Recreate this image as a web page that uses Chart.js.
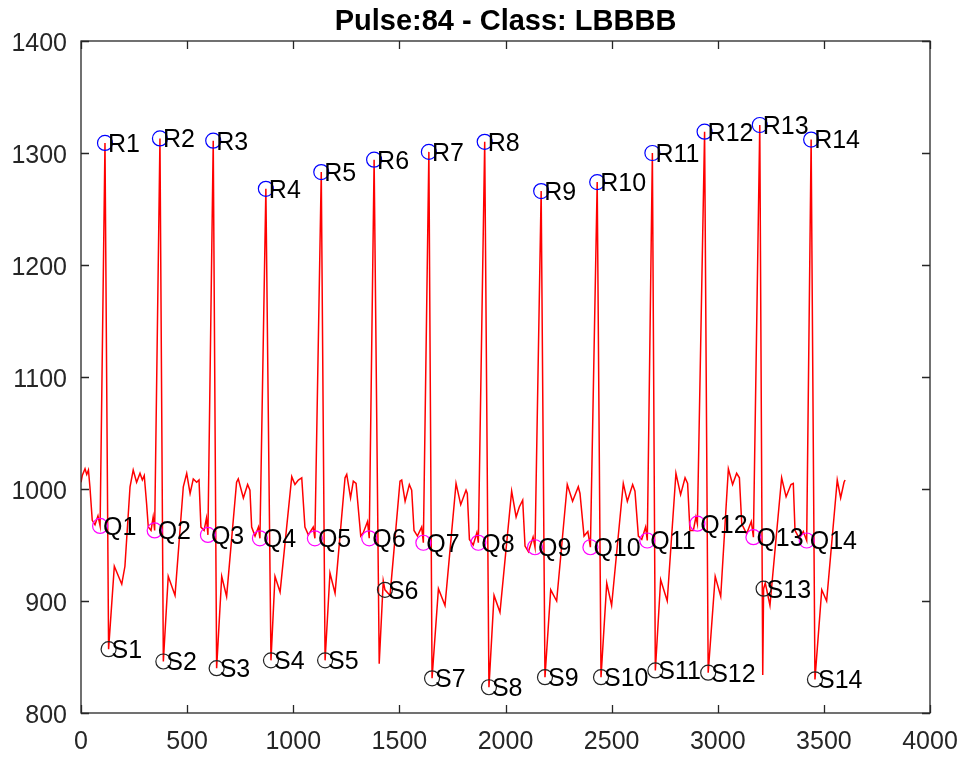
<!DOCTYPE html>
<html>
<head>
<meta charset="utf-8">
<title>Pulse:84 - Class: LBBBB</title>
<script src="https://cdn.jsdelivr.net/npm/chart.js@4/dist/chart.umd.min.js"></script>
<style>
  body { margin: 0; background: #fff; }
  canvas { display: block; }
</style>
</head>
<body>
<canvas id="ecg" width="968" height="760"></canvas>
<script>
// ECG trace, one line per beat (sample index / amplitude)
const waveX = [
  0, 6, 19, 27, 35, 42, 53, 66, 80,
  157, 192, 207, 231, 246, 262, 278, 289, 298, 309, 317, 330, 340,
  411, 443, 482, 498, 514, 529, 545, 556, 565, 580, 591,
  663, 686, 733, 741, 765, 785, 796, 804, 820, 836,
  914, 938, 993, 1008, 1024, 1040, 1055, 1071, 1094,
  1173, 1197, 1244, 1252, 1270, 1283, 1296, 1318, 1330, 1350,
  1405, 1424, 1456, 1503, 1511, 1527, 1547, 1558, 1569, 1585, 1605,
  1684, 1715, 1767, 1789, 1814, 1820, 1830, 1848, 1865,
  1946, 1974, 2029, 2050, 2065, 2081, 2092, 2108, 2130,
  2213, 2241, 2291, 2316, 2343, 2351, 2370, 2388,
  2477, 2500, 2555, 2574, 2599, 2610, 2626, 2642, 2660,
  2731, 2762, 2803, 2825, 2846, 2858, 2869, 2885, 2897,
  2988, 3014, 3050, 3070, 3089, 3102, 3113, 3136, 3158,
  3212, 3224, 3246, 3301, 3322, 3345, 3356, 3364, 3384, 3403,
  3490, 3513, 3563, 3579, 3595, 3600
];
const waveY = [
  1006, 1012, 1018, 1013, 1017, 1002, 972, 968, 976,
  931, 915, 931, 1002, 1017, 1006, 1014, 1008, 1012, 987, 966, 963, 975,
  922, 905, 1002, 1014, 996, 1009, 1006, 1008, 966, 963, 974,
  922, 904, 1006, 1009, 992, 1004, 999, 966, 958, 966,
  922, 908, 1011, 1004, 1008, 1010, 966, 959, 966,
  925, 907, 1010, 1013, 992, 1007, 1005, 958, 961, 971,
  844, 918, 905, 1007, 1008, 989, 1004, 999, 963, 958, 966,
  911, 896, 1005, 986, 999, 996, 955, 950, 961,
  905, 890, 998, 975, 984, 990, 949, 944, 957,
  910, 900, 1004, 989, 1002, 996, 958, 962,
  916, 896, 1005, 989, 1004, 998, 958, 955, 966,
  919, 900, 1014, 995, 1010, 1005, 963, 963, 975,
  922, 904, 1018, 1004, 1014, 1010, 969, 960, 971,
  834, 916, 896, 1010, 993, 1004, 1005, 963, 956, 962,
  910, 900, 1008, 992, 1006, 1008
];

// detected Q, R and S points
const qX = [90, 347, 598, 843, 1102, 1358, 1613, 1872, 2139, 2400, 2668, 2904, 3168, 3419];
const qY = [967, 963, 959, 956, 956, 956, 952, 952, 948, 948, 954, 969, 957, 954];
const rX = [113, 372, 623, 871, 1132, 1381, 1639, 1902, 2168, 2432, 2692, 2938, 3198, 3440];
const rY = [1309, 1313, 1311, 1268, 1283, 1294, 1301, 1310, 1266, 1274, 1300, 1319, 1325, 1312];
const sX = [130, 388, 639, 895, 1150, 1432, 1654, 1922, 2186, 2450, 2706, 2955, 3216, 3458];
const sY = [857, 846, 840, 847, 847, 910, 831, 823, 832, 832, 838, 836, 911, 830];

const xTickValues = [0, 500, 1000, 1500, 2000, 2500, 3000, 3500, 4000];
const yTickValues = [800, 900, 1000, 1100, 1200, 1300, 1400];

const FONT = '"Liberation Sans", Arial, Helvetica, sans-serif';

const toPoints = (xs, ys) => xs.map((v, i) => ({ x: v, y: ys[i] }));

// the trace passes through every Q/R/S point
const signal = toPoints(waveX, waveY)
  .concat(toPoints(qX, qY), toPoints(rX, rY), toPoints(sX, sY))
  .sort((a, b) => a.x - b.x);

// box round the plot with inward ticks on all four sides
const axisBox = {
  id: 'axisBox',
  afterDatasetsDraw(chart) {
    const { ctx, chartArea: a, scales: { x, y } } = chart;
    const len = 8;
    ctx.save();
    ctx.strokeStyle = '#262626';
    ctx.lineWidth = 1.3;
    ctx.strokeRect(a.left, a.top, a.right - a.left, a.bottom - a.top);
    ctx.beginPath();
    x.ticks.forEach(t => {
      const px = Math.round(x.getPixelForValue(t.value)) + 0.5;
      ctx.moveTo(px, a.bottom); ctx.lineTo(px, a.bottom - len);
      ctx.moveTo(px, a.top); ctx.lineTo(px, a.top + len);
    });
    y.ticks.forEach(t => {
      const py = Math.round(y.getPixelForValue(t.value)) + 0.5;
      ctx.moveTo(a.left, py); ctx.lineTo(a.left + len, py);
      ctx.moveTo(a.right, py); ctx.lineTo(a.right - len, py);
    });
    ctx.stroke();
    ctx.restore();
  }
};

// "Q1", "R1", "S1" ... next to each marker
const peakLabels = {
  id: 'peakLabels',
  afterDatasetsDraw(chart) {
    const { ctx, scales: { x, y } } = chart;
    ctx.save();
    ctx.font = '25px ' + FONT;
    ctx.fillStyle = '#000';
    ctx.textAlign = 'left';
    ctx.textBaseline = 'middle';
    [['Q', qX, qY], ['R', rX, rY], ['S', sX, sY]].forEach(([name, xs, ys]) => {
      xs.forEach((v, i) => {
        ctx.fillText(name + (i + 1), x.getPixelForValue(v) + 3, y.getPixelForValue(ys[i]) + 2);
      });
    });
    ctx.restore();
  }
};

const marker = (label, xs, ys, color) => ({
  label,
  data: toPoints(xs, ys),
  showLine: false,
  pointRadius: 7.5,
  pointHoverRadius: 7.5,
  pointBorderWidth: 1.2,
  pointBorderColor: color,
  pointBackgroundColor: 'rgba(0,0,0,0)',
  order: 0
});

new Chart(document.getElementById('ecg'), {
  type: 'line',
  data: {
    datasets: [
      {
        label: 'ECG',
        data: signal,
        borderColor: '#ff0000',
        borderWidth: 1.5,
        pointRadius: 0,
        tension: 0,
        fill: false,
        order: 1
      },
      marker('Q', qX, qY, '#ff00ff'),
      marker('R', rX, rY, '#0000ff'),
      marker('S', sX, sY, '#222222')
    ]
  },
  options: {
    responsive: false,
    animation: false,
    devicePixelRatio: 1,
    layout: { padding: { left: 0, right: 38, top: 0, bottom: 0 } },
    plugins: {
      legend: { display: false },
      tooltip: { enabled: false },
      title: {
        display: true,
        fullSize: false,
        text: 'Pulse:84 - Class: LBBBB',
        color: '#000',
        font: { family: FONT, size: 29, weight: 'bold', lineHeight: 1.2 },
        padding: { top: 5, bottom: 1.2 }
      }
    },
    scales: {
      x: {
        type: 'linear',
        min: 0,
        max: 4000,
        afterBuildTicks: s => { s.ticks = xTickValues.map(value => ({ value })); },
        afterFit: s => { s.height = 47; },
        grid: { display: false },
        border: { display: false },
        ticks: {
          color: '#262626',
          font: { family: FONT, size: 25 },
          padding: 6,
          maxRotation: 0,
          callback: v => String(v)
        }
      },
      y: {
        type: 'linear',
        min: 800,
        max: 1400,
        afterBuildTicks: s => { s.ticks = yTickValues.map(value => ({ value })); },
        afterFit: s => { s.width = 81; },
        grid: { display: false },
        border: { display: false },
        ticks: {
          color: '#262626',
          font: { family: FONT, size: 25 },
          padding: 6,
          labelOffset: 3,
          callback: v => String(v)
        }
      }
    }
  },
  plugins: [axisBox, peakLabels]
});
</script>
</body>
</html>
